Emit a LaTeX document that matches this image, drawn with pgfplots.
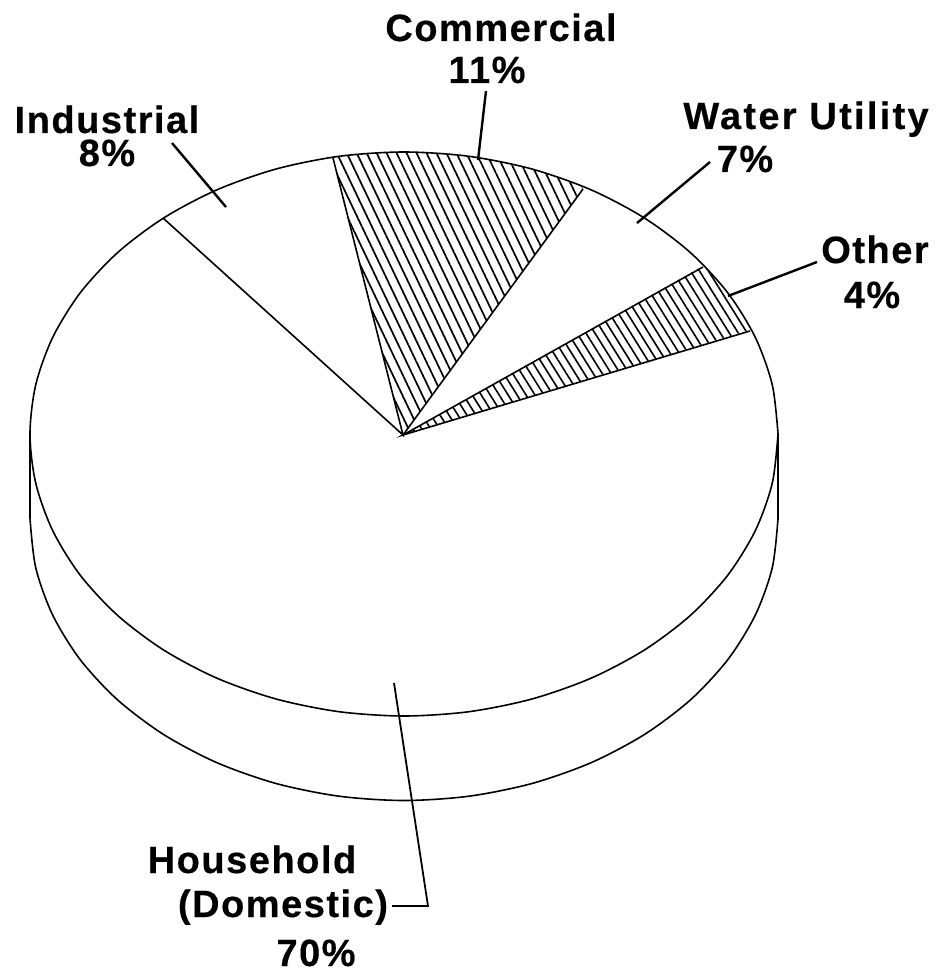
\documentclass[border=0pt]{standalone}
\usepackage{fontspec}
\setmainfont{Liberation Sans}
\newfontfamily\labfont[FakeBold=0.4,LetterSpace=4]{Liberation Sans Bold}
\newfontfamily\labwide[FakeBold=0.4,LetterSpace=6]{Liberation Sans Bold}
\usepackage{pgfplots}
\pgfplotsset{compat=1.18}
\usetikzlibrary{patterns.meta}
\newcommand{\lab}{\fontsize{19}{19}\selectfont\labfont}
\newcommand{\labw}{\fontsize{19}{19}\selectfont\labwide}
\tikzset{lbl/.style={anchor=base, inner sep=0pt, font=\lab}}
\begin{document}
\begin{tikzpicture}
\begin{axis}[
  scale only axis, width=470.5pt, height=486.5pt,
  xmin=0, xmax=941, ymin=0, ymax=973, y dir=reverse,
  hide axis, clip=false,
  cycle list={{black,solid,no marks}},
  every axis plot/.append style={no marks, solid, line width=0.8pt, black},
]
\path[draw=none] (axis cs:0,0) rectangle (axis cs:941,973);
% hatched slices
\addplot[draw=none, pattern={Lines[angle=-64.5, distance=4.5pt, line width=0.85pt]}, pattern color=black] coordinates {
(403,435)(332.6,157.2)(371.4,153.1)(404,152)(436.6,153.1)(468.9,156.3)(500.8,161.6)(531.9,169)(562.1,178.4)(583,188)(403,435)};
\addplot[draw=none, pattern={Lines[angle=-58, distance=3.8pt, line width=0.8pt]}, pattern color=black] coordinates {
(403,435)(703,266)(716,279)(727.9,293)(739,311)(750,330)(403,435)};
% lower rim
\addplot[smooth] coordinates {(30,518.5)(35.7,567.5)(52.6,614.9)(80.1,659.5)(117.5,699.8)(163.6,734.5)(217,762.7)(276.1,783.5)(339.1,796.2)(404,800.5)(468.9,796.2)(531.9,783.5)(591,762.7)(644.4,734.5)(690.5,699.8)(727.9,659.5)(755.4,614.9)(772.3,567.5)(778,518.5)};
\addplot[] coordinates {(30,434)(30,518.5)};
\addplot[] coordinates {(778,434)(778,518.5)};
% top ellipse
\addplot[smooth] coordinates {(778,434)(772.3,385)(755.4,337.6)(727.9,293)(690.5,252.7)(644.4,218)(591,189.8)(531.9,169)(468.9,156.3)(404,152)(339.1,156.3)(276.1,169)(217,189.8)(163.6,218)(117.5,252.7)(80.1,293)(52.6,337.6)(35.7,385)(30,434)(35.7,483)(52.6,530.4)(80.1,575)(117.5,615.3)(163.6,650)(217,678.2)(276.1,699)(339.1,711.7)(404,716)(468.9,711.7)(531.9,699)(591,678.2)(644.4,650)(690.5,615.3)(727.9,575)(755.4,530.4)(772.3,483)(778,434)};
% slice edges
\addplot[] coordinates {(163,218)(403,435)(333,158)};
\addplot[] coordinates {(403,435)(583,189)};
\addplot[] coordinates {(703,267)(403,435)(750,331)};
% leaders
\addplot[line width=1.2pt] coordinates {(486,91)(478,160)};
\addplot[line width=1.2pt] coordinates {(710,162)(637,223)};
\addplot[line width=1.2pt] coordinates {(817,262)(728,296)};
\addplot[line width=1.2pt] coordinates {(172,143)(226,207)};
\addplot[line width=0.9pt] coordinates {(394,683)(428,906)(392,906)};
% labels
\node[lbl] at (axis cs:501,41) {Commercial};
\node[lbl] at (axis cs:487,83) {11\%};
\node[lbl,font=\labw] at (axis cs:806,129) {Water Utility};
\node[lbl] at (axis cs:745,172) {7\%};
\node[lbl] at (axis cs:875,263) {Other};
\node[lbl] at (axis cs:872,308) {4\%};
\node[lbl] at (axis cs:107,133) {Industrial};
\node[lbl] at (axis cs:107,166) {8\%};
\node[lbl] at (axis cs:252,873) {Household};
\node[lbl] at (axis cs:283,917) {(Domestic)};
\node[lbl] at (axis cs:316,966) {70\%};
\end{axis}
\end{tikzpicture}
\end{document}
